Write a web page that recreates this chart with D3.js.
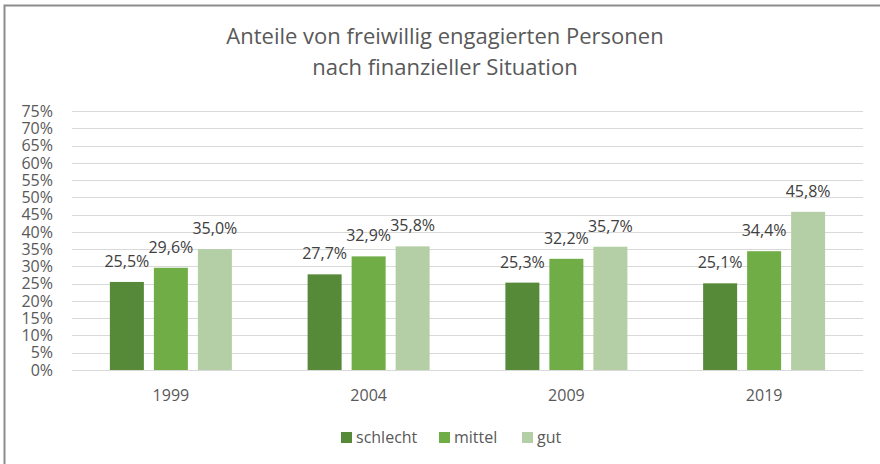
<!DOCTYPE html>
<html><head><meta charset="utf-8">
<script src="https://cdn.jsdelivr.net/npm/d3@7"></script>
<style>body{margin:0;background:#fff}svg{display:block}text{font-family:"Open Sans",sans-serif;fill:#595959}</style>
</head><body>
<svg id="c" width="880" height="464"></svg>
<script>
const categories = ["1999", "2004", "2009", "2019"];
const seriesNames = ["schlecht", "mittel", "gut"];
const schlecht = [25.5, 27.7, 25.3, 25.1];
const mittel = [29.6, 32.9, 32.2, 34.4];
const gut = [35.0, 35.8, 35.7, 45.8];
const yTicks = [0,5,10,15,20,25,30,35,40,45,50,55,60,65,70,75];
const titleLines = ["Anteile von freiwillig engagierten Personen", "nach finanzieller Situation"];
const colors = ["#578a38", "#70ad47", "#b4cfa5"];

const series = [schlecht, mittel, gut];
const svg = d3.select("#c");
svg.append("path").attr("d","M4.5,464 V5.5 H880").attr("fill","none").attr("stroke","#8c8c8c").attr("stroke-width",2);

const pL = 72, pR = 863, pT = 111, pB = 370;
const x0 = d3.scaleBand().domain(categories).range([pL, pR]).paddingInner(0).paddingOuter(0);
const y = d3.scaleLinear().domain([0, 75]).range([pB, pT]);
const barW = 34, gap = 10;
const x1 = d3.scaleLinear().domain([0, 1]).range([0, barW + gap]);

svg.append("g").selectAll("line").data(yTicks).join("line")
  .attr("x1", pL).attr("x2", pR)
  .attr("y1", d => Math.round(y(d)) + 0.5).attr("y2", d => Math.round(y(d)) + 0.5)
  .attr("stroke", "#d9d9d9").attr("stroke-width", 1);

svg.append("g").selectAll("text").data(yTicks).join("text")
  .attr("x", 53).attr("y", d => y(d)).attr("dy", "0.36em")
  .attr("text-anchor", "end").attr("font-size", 16)
  .text(d => d + "%");

const groupW = 3 * barW + 2 * gap;
const fmt = v => v.toFixed(1).replace(".", ",") + "%";
series.forEach((vals, si) => {
  const g = svg.append("g");
  g.selectAll("rect").data(vals).join("rect")
    .attr("x", (d, i) => x0(categories[i]) + x0.bandwidth() / 2 - groupW / 2 + x1(si))
    .attr("y", d => y(d)).attr("width", barW).attr("height", d => y(0) - y(d))
    .attr("fill", colors[si]);
  g.selectAll("text").data(vals).join("text")
    .attr("x", (d, i) => x0(categories[i]) + x0.bandwidth() / 2 - groupW / 2 + x1(si) + barW / 2)
    .attr("y", d => y(d) - 15)
    .attr("text-anchor", "middle").attr("font-size", 16)
    .attr("fill", "#404040").style("fill", "#404040")
    .text(fmt);
});

svg.append("g").selectAll("text").data(categories).join("text")
  .attr("x", d => x0(d) + x0.bandwidth() / 2).attr("y", 401)
  .attr("text-anchor", "middle").attr("font-size", 16)
  .text(d => d);

svg.append("g").selectAll("text").data(titleLines).join("text")
  .attr("x", 445).attr("y", (d, i) => 44 + i * 31)
  .attr("text-anchor", "middle").attr("font-size", 22)
  .text(d => d);

const legX = [341, 439, 522];
const leg = svg.append("g").selectAll("g").data(seriesNames).join("g")
  .attr("transform", (d, i) => `translate(${legX[i]},432)`);
leg.append("rect").attr("width", 11).attr("height", 11).attr("fill", (d, i) => colors[i]);
leg.append("text").attr("x", 15).attr("y", 5.5).attr("dy", "0.36em").attr("font-size", 16).text(d => d);
</script>
</body></html>
